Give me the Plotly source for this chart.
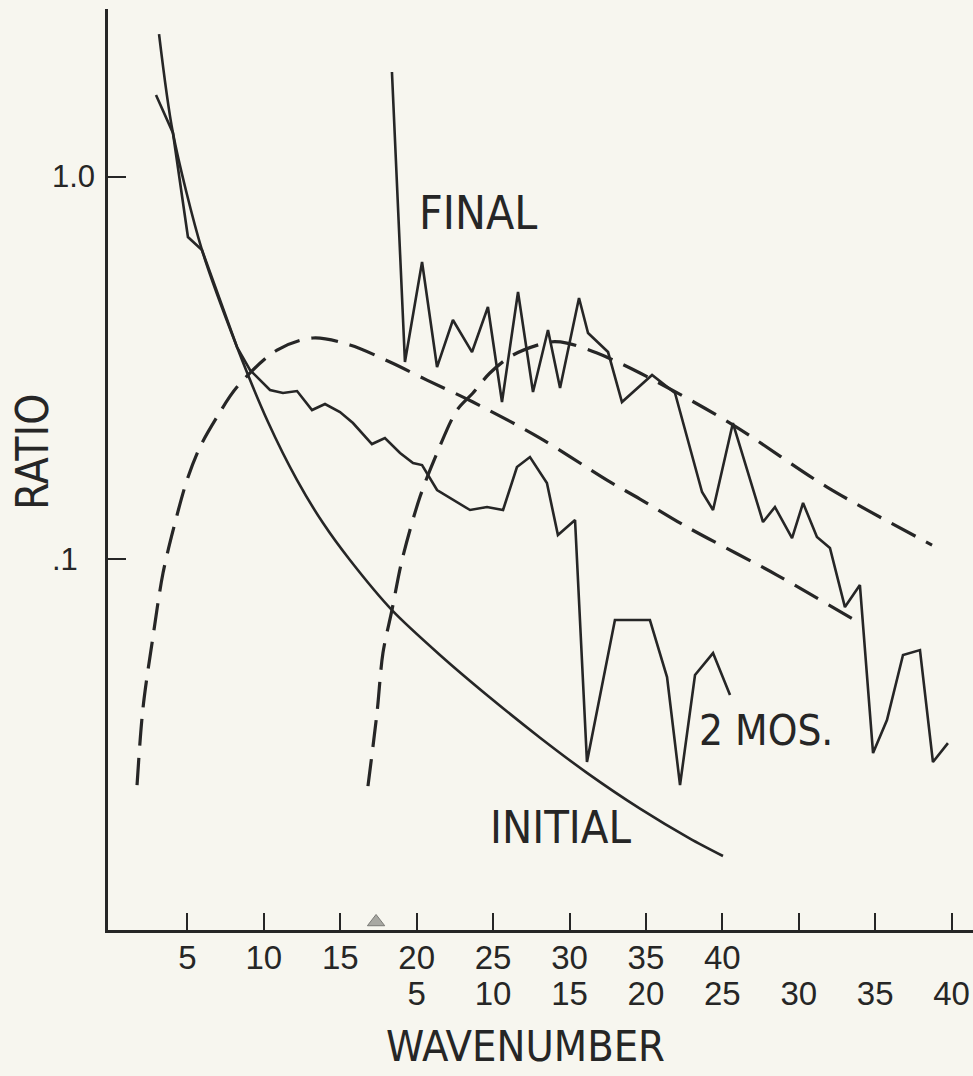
import plotly.graph_objects as go

# ---------------- data ----------------
# lower-row wavenumber scale is the upper-row scale shifted by 15
SCALE_SHIFT = 15

initial_wn = [3.14, 4.05, 5.95, 8.24, 10.27, 12.17, 13.87, 15.63, 18.38, 21.52,
              24.79, 28.07, 31.14, 34.61, 37.88, 40.04]
initial_ratio = [2.367, 1.304, 0.644, 0.3589, 0.2284, 0.1609, 0.1242, 0.0994, 0.0735, 0.0561,
                 0.04341, 0.03407, 0.02757, 0.02222, 0.01855, 0.01670]

mos2_wn = [2.94, 4.05, 5.03, 5.95, 8.24, 9.09, 10.40, 11.25, 12.17, 13.15,
           14.00, 14.98, 15.83, 17.07, 17.92, 18.91, 19.76, 20.35, 21.33, 22.37,
           23.49, 24.60, 25.65, 26.56, 27.41, 28.52, 29.24, 30.36, 31.14, 32.97,
           35.26, 36.38, 37.23, 38.21, 39.39, 40.50]
mos2_ratio = [1.640, 1.304, 0.6965, 0.6440, 0.3589, 0.3125, 0.2770, 0.2720, 0.2753, 0.2455,
              0.2545, 0.2425, 0.2270, 0.2000, 0.2074, 0.1895, 0.1784, 0.1762, 0.1516, 0.1427,
              0.1344, 0.1368, 0.1344, 0.1741, 0.1849, 0.1581, 0.1156, 0.1265, 0.02942, 0.06923,
              0.06923, 0.04911, 0.02561, 0.04970, 0.05674, 0.04406]

# FINAL is read on the lower wavenumber row
final_wn = [3.38, 4.23, 5.35, 6.33, 7.37, 8.62, 9.66, 10.58, 11.63, 12.61,
            13.59, 14.38, 15.62, 16.21, 17.52, 18.43, 20.40, 21.90, 23.67, 24.39,
            25.69, 27.66, 28.44, 29.56, 30.28, 31.19, 32.04, 33.02, 34.00, 34.86,
            35.77, 36.82, 37.93, 38.78, 39.76]
final_ratio = [1.883, 0.3279, 0.5993, 0.3181, 0.4223, 0.3482, 0.4567, 0.2576, 0.5000, 0.2737,
               0.3977, 0.2803, 0.4822, 0.3905, 0.3482, 0.2576, 0.3032, 0.2720, 0.1498, 0.1344,
               0.2270, 0.1250, 0.1368, 0.1135, 0.1402, 0.1142, 0.1069, 0.07487, 0.08549, 0.03105,
               0.03789, 0.0561, 0.05778, 0.02942, 0.03298]

# dashed curve on the upper wavenumber row
dash1_wn = [1.70, 2.09, 2.74, 3.40, 4.18, 4.97, 5.82, 6.93, 8.24, 10.86,
            13.21, 15.63, 18.25, 20.67, 23.68, 28.07, 32.45, 34.61, 37.69, 43.57, 48.87]
dash1_ratio = [0.02561, 0.04074, 0.06248, 0.09191, 0.1242, 0.1609, 0.1964, 0.2353, 0.2820, 0.3525,
               0.3790, 0.3633, 0.3279, 0.2941, 0.2576, 0.2074, 0.1609, 0.1436, 0.1213, 0.09080, 0.06841]

# dashed curve on the lower wavenumber row
dash2_wn = [1.81, 2.40, 2.79, 3.38, 4.04, 5.21, 6.33, 7.64, 8.68, 9.79,
            11.30, 13.72, 14.83, 16.80, 19.61, 25.50, 31.85, 38.72]
dash2_ratio = [0.02545, 0.03953, 0.05674, 0.0735, 0.0994, 0.1453, 0.1895, 0.2455, 0.2720, 0.3069,
               0.3420, 0.3699, 0.3676, 0.3461, 0.3069, 0.2270, 0.1543, 0.1088]

upper_tick_vals = [5, 10, 15, 20, 25, 30, 35, 40, 45, 50, 55]
upper_tick_text = ["5", "10", "15", "20", "25", "30", "35", "40", "", "", ""]
lower_tick_vals = [5, 10, 15, 20, 25, 30, 35, 40]
lower_tick_text = ["5", "10", "15", "20", "25", "30", "35", "40"]
y_tick_vals = [0.1, 1.0]
y_tick_text = [".1", "1.0"]
marker_wn = [17.34]          # small triangle on the axis
marker_ratio = [0.01122]

# ---------------- styling ----------------
W, H = 973, 1076
ML, MR, MT, MB = 108, 0, 9, 146
INK = "#262626"
BG = "#f7f6ef"
LETTER_FONT = "Liberation Sans Narrow, DejaVu Sans Condensed, Liberation Sans, sans-serif"
DIGIT_FONT = "Liberation Sans, Arial, sans-serif"
X_RANGE = [-0.2, 56.4]
Y_RANGE_LOG = [-1.971, 0.4398]
DASH = "27px,12px"
SOLID_W = 2.6

fig = go.Figure()

fig.add_trace(go.Scatter(x=initial_wn, y=initial_ratio, mode="lines",
                         line=dict(color=INK, width=SOLID_W, shape="spline", smoothing=0.8),
                         showlegend=False, hoverinfo="skip"))
fig.add_trace(go.Scatter(x=mos2_wn, y=mos2_ratio, mode="lines",
                         line=dict(color=INK, width=SOLID_W),
                         showlegend=False, hoverinfo="skip"))
fig.add_trace(go.Scatter(x=final_wn, y=final_ratio, mode="lines", xaxis="x2",
                         line=dict(color=INK, width=SOLID_W),
                         showlegend=False, hoverinfo="skip"))
fig.add_trace(go.Scatter(x=dash1_wn, y=dash1_ratio, mode="lines",
                         line=dict(color=INK, width=3.2, dash=DASH, shape="spline", smoothing=0.9),
                         showlegend=False, hoverinfo="skip"))
fig.add_trace(go.Scatter(x=dash2_wn, y=dash2_ratio, mode="lines", xaxis="x2",
                         line=dict(color=INK, width=3.2, dash=DASH, shape="spline", smoothing=0.9),
                         showlegend=False, hoverinfo="skip"))
fig.add_trace(go.Scatter(x=marker_wn, y=marker_ratio, mode="markers", cliponaxis=False,
                         marker=dict(symbol="triangle-up", size=15, color="#a8a8a2",
                                     line=dict(color="#7a7a76", width=1)),
                         showlegend=False, hoverinfo="skip"))


def px_to_paper(px, py):
    pw = W - ML - MR
    ph = H - MT - MB
    return (px - ML) / pw, (H - MB - py) / ph


annotations = []


def add_text(text, px, py, size, font=LETTER_FONT, xanchor="center", angle=0):
    xp, yp = px_to_paper(px, py)
    annotations.append(dict(text=text, x=xp, y=yp, xref="paper", yref="paper",
                            xanchor=xanchor, yanchor="middle", showarrow=False,
                            textangle=angle, font=dict(family=font, size=size, color=INK)))


add_text("FINAL", 478, 213, 46)
add_text("INITIAL", 560, 827, 45)
add_text("2 MOS.", 766, 730, 42)
add_text("WAVENUMBER", 525, 1046, 43)
add_text("RATIO", 32, 452, 44, angle=-90)
add_text(y_tick_text[1], 50, 177, 31, font=DIGIT_FONT, xanchor="left")
add_text(y_tick_text[0], 50, 559, 31, font=DIGIT_FONT, xanchor="left")

fig.update_layout(
    width=W, height=H,
    margin=dict(l=ML, r=MR, t=MT, b=MB, pad=0),
    paper_bgcolor=BG, plot_bgcolor=BG,
    showlegend=False,
    xaxis=dict(range=X_RANGE, tickvals=upper_tick_vals, ticktext=upper_tick_text,
               ticks="inside", ticklen=17, tickwidth=2, tickcolor=INK,
               showline=True, linecolor=INK, linewidth=2.5,
               showgrid=False, zeroline=False, ticklabelstandoff=-3,
               tickfont=dict(family=DIGIT_FONT, size=33, color=INK)),
    xaxis2=dict(range=[X_RANGE[0] - SCALE_SHIFT, X_RANGE[1] - SCALE_SHIFT],
                overlaying="x", anchor="y", side="bottom",
                tickvals=lower_tick_vals, ticktext=lower_tick_text,
                ticks="", showline=False, showgrid=False, zeroline=False,
                ticklabelstandoff=41,
                tickfont=dict(family=DIGIT_FONT, size=33, color=INK)),
    yaxis=dict(type="log", range=Y_RANGE_LOG, tickvals=y_tick_vals,
               ticks="inside", ticklen=18, tickwidth=2, tickcolor=INK,
               showticklabels=False, showline=True, linecolor=INK, linewidth=2.5,
               showgrid=False, zeroline=False),
    annotations=annotations,
)

fig.write_html("out.html")
